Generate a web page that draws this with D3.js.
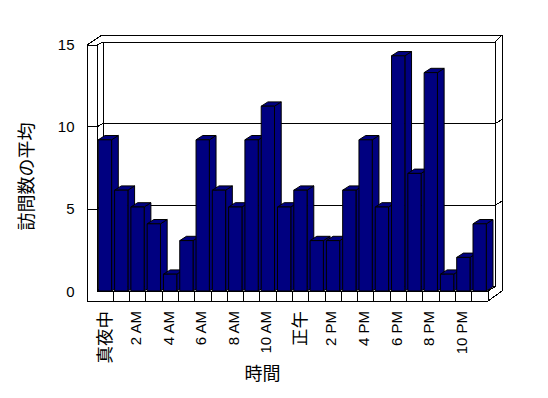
<!DOCTYPE html>
<html>
<head>
<meta charset="utf-8">
<script src="https://cdn.jsdelivr.net/npm/d3@7"></script>
<style>
  html, body { margin: 0; padding: 0; background: #ffffff; }
  svg { display: block; }
  text { fill: #000; }
</style>
</head>
<body>
<svg id="chart" width="548" height="398"></svg>
<script>
// ---- data ----
const categories = ["真夜中","1 AM","2 AM","3 AM","4 AM","5 AM","6 AM","7 AM","8 AM","9 AM","10 AM","11 AM",
                    "正午","1 PM","2 PM","3 PM","4 PM","5 PM","6 PM","7 PM","8 PM","9 PM","10 PM","11 PM"];
const visits = [9,6,5,4,1,3,9,6,5,9,11,5,6,3,3,6,9,5,14,7,13,1,2,4];
const xTickLabels = ["真夜中","2 AM","4 AM","6 AM","8 AM","10 AM","正午","2 PM","4 PM","6 PM","8 PM","10 PM"];
const yTickValues = [0,5,10,15];
const yTitle = "訪問数の平均";
const xTitle = "時間";

// ---- layout ----
const svg = d3.select("#chart");
const LATIN = "'Liberation Sans', Arial, 'Noto Sans CJK JP', sans-serif";
const CJK = "'Noto Sans CJK JP', 'Liberation Sans', sans-serif";
const isCJK = s => /[^\x00-\x7F]/.test(s);

const x = d3.scaleBand().domain(categories).range([97, 488]).padding(0);
const yBar = d3.scaleLinear().domain([0, 15]).range([291, 39]);
const yFront = d3.scaleLinear().domain([0, 15]).range([291.3, 44.5]);
const yBack = d3.scaleLinear().domain([0, 15]).range([286.7, 42]);

const frame = svg.append("g")
  .attr("fill", "none").attr("stroke", "#000").attr("stroke-width", 1)
  .attr("shape-rendering", "crispEdges");

// outer silhouette of the 3D box
frame.append("path").attr("d", "M87,45 L102,35 L502,35 L502,291 L488,301 L87,301 Z");
// left wall inner edge
frame.append("path").attr("d", "M97,45 L97,291");
// back wall inner edges
frame.append("path").attr("d", `M97,45 L103,${yBack(15)} L495,${yBack(15)} L502,35`);
frame.append("path").attr("d", `M103,${yBack(15)} L103,${yBack(0)}`);
frame.append("path").attr("d", `M495,${yBack(15)} L495,${yBack(0)}`);
frame.append("path").attr("d", "M87,45 L97,45");
// floor
frame.append("path").attr("d", `M97,291 L103,${yBack(0)} L495,${yBack(0)}`);
frame.append("path").attr("d", `M97,291 L488,291 L488,301 M488,291 L495,${yBack(0)}`);

// gridlines (front tick on left wall, back wall line, right wall end)
yTickValues.filter(v => v > 0 && v < 15).forEach(v => {
  frame.append("path").attr("d",
    `M87,${yFront(v)} L97,${yFront(v)} L103,${yBack(v)} L495,${yBack(v)} L502,${yBack(v) - 4}`);
});

// floor front dividers at band boundaries
categories.slice(1).forEach(c => {
  frame.append("path").attr("d", `M${x(c)},291 L${x(c)},301`);
});

// ---- bars ----
const DX = 6.7, DY = -4.3;
const bw = x.bandwidth();
const fw = 13.3;
const bars = svg.append("g").attr("stroke", "#000").attr("stroke-width", 1)
  .attr("fill", "#000080").attr("stroke-linejoin", "miter");

categories.forEach((c, i) => {
  const v = visits[i];
  const xl = x(c) + (bw - fw) / 2 - 0.2;
  const xr = xl + fw;
  const yt = yBar(v), yb = yBar(0);
  const g = bars.append("g");
  g.append("path").attr("d", `M${xr},${yt} L${xr + DX},${yt + DY} L${xr + DX},${yb + DY} L${xr},${yb} Z`);
  g.append("path").attr("d", `M${xl},${yt} L${xl + DX},${yt + DY} L${xr + DX},${yt + DY} L${xr},${yt} Z`);
  g.append("path").attr("d", `M${xl},${yt} L${xr},${yt} L${xr},${yb} L${xl},${yb} Z`);
});

// ---- axes ----
const yAxis = svg.append("g").attr("transform", "translate(87,0)")
  .call(d3.axisLeft(yFront).tickValues(yTickValues).tickSize(0).tickPadding(12.5));
yAxis.select(".domain").remove();
yAxis.selectAll("text").attr("font-family", LATIN).attr("font-size", 15).attr("fill", "#000");

const xAxis = svg.append("g").attr("transform", "translate(0,311)")
  .call(d3.axisBottom(x).tickValues(xTickLabels).tickSize(0));
xAxis.select(".domain").remove();
xAxis.selectAll("text")
  .attr("transform", "rotate(-90)")
  .attr("text-anchor", "end")
  .attr("x", 0)
  .attr("y", d => isCJK(d) ? -0.5 : -2)
  .attr("dy", "0.35em")
  .attr("font-family", d => isCJK(d) ? CJK : LATIN)
  .attr("font-size", d => isCJK(d) ? 17.5 : 15)
  .attr("fill", "#000");

// ---- titles ----
svg.append("text")
  .attr("transform", "translate(26.5,176.5) rotate(-90)")
  .attr("text-anchor", "middle").attr("dy", "0.36em")
  .attr("font-family", CJK).attr("font-size", 18)
  .text(yTitle);

svg.append("text")
  .attr("x", 262.5).attr("y", 373.5)
  .attr("text-anchor", "middle").attr("dy", "0.36em")
  .attr("font-family", CJK).attr("font-size", 18)
  .text(xTitle);
</script>
</body>
</html>
